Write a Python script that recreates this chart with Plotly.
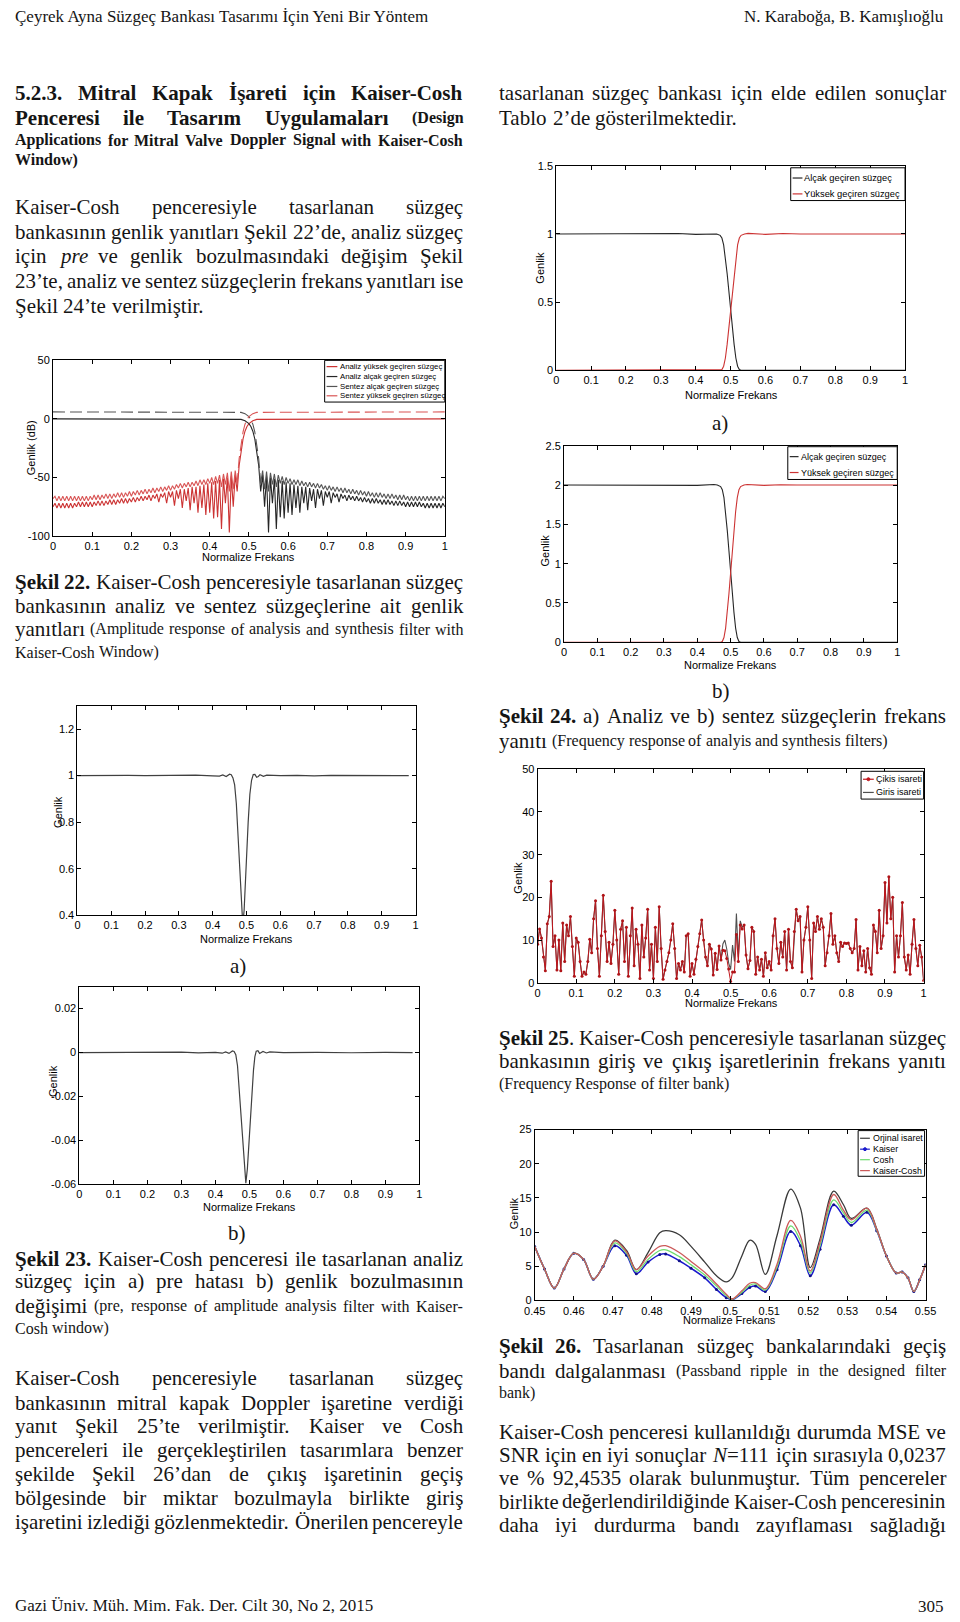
import re
import glob
import subprocess
import numpy as np
import plotly.graph_objects as go

W, H = 960, 1622

# ======================= DATA =======================
freq_ticks = [0, 0.1, 0.2, 0.3, 0.4, 0.5, 0.6, 0.7, 0.8, 0.9, 1.0]
freq_labels = ["0", "0.1", "0.2", "0.3", "0.4", "0.5", "0.6", "0.7", "0.8", "0.9", "1"]
x_title = "Normalize Frekans"
y_title = "Genlik"
y_title_db = "Genlik (dB)"

# --- Şekil 22 (dB) : low-pass curves; the high-pass curves are their mirror images
s22_yticks = [-100, -50, 0, 50]
s22_ylabels = ["-100", "-50", "0", "50"]
s22_an_lp_pass_x = [0, 0.46, 0.47, 0.48, 0.49, 0.50, 0.505, 0.51, 0.515, 0.52, 0.525]
s22_an_lp_pass_db = [0, 0, -0.1, -0.4, -1.6, -4.0, -6.5, -10.5, -17, -27, -40]
s22_sy_lp_pass_x = [0, 0.45, 0.46, 0.47, 0.48, 0.49, 0.50, 0.505, 0.51, 0.515, 0.52, 0.525]
s22_sy_lp_pass_db = [6, 6, 6, 5.9, 5.6, 4.5, 2.0, -0.5, -4.5, -11, -21, -34]
s22_stop_x = np.round(0.53 + 0.005 * np.arange(95), 3)
s22_an_lp_stop_db = [
    -62, -48, -75, -49, -97, -50, -72, -51, -94, -52,
    -84, -53, -85, -54, -80, -55, -82, -56, -76, -57,
    -80, -58, -72, -58, -78, -59, -70, -60, -76, -60,
    -68, -61, -74, -62, -67, -62, -72, -63, -67, -64,
    -71, -64, -68, -65, -70, -65, -69, -66, -70, -66,
    -70, -67, -71, -67, -71, -68, -72, -68, -72, -68,
    -72, -69, -73, -69, -73, -69, -73, -70, -74, -70,
    -74, -70, -74, -71, -75, -71, -75, -71, -75, -71,
    -75, -71, -75, -72, -76, -72, -76, -72, -76, -72,
    -76, -72, -76, -72, -75]
s22_sy_lp_stop_db = [
    -55, -44, -60, -45, -62, -46, -56, -47, -58, -48,
    -55, -49, -56, -50, -55, -51, -56, -52, -56, -52,
    -57, -53, -57, -54, -58, -54, -58, -55, -59, -55,
    -59, -56, -60, -57, -61, -57, -61, -58, -62, -58,
    -62, -59, -63, -59, -63, -60, -64, -60, -64, -61,
    -65, -61, -65, -62, -66, -62, -66, -63, -67, -63,
    -67, -63, -67, -64, -68, -64, -68, -64, -68, -65,
    -69, -65, -69, -65, -69, -66, -70, -66, -70, -66,
    -70, -66, -70, -66, -70, -66, -70, -66, -70, -66,
    -70, -66, -70, -66, -68]
s22_legend = ["Analiz yüksek geçiren süzgeç", "Analiz alçak geçiren süzgeç",
              "Sentez alçak geçiren süzgeç", "Sentez yüksek geçiren süzgeç"]

# --- Şekil 24 a) analysis, b) synthesis
s24_legend = ["Alçak geçiren süzgeç", "Yüksek geçiren süzgeç"]
s24_lp_x = [0, 0.3, 0.35, 0.4, 0.45, 0.46, 0.47, 0.475, 0.48, 0.485, 0.49, 0.495, 0.5,
            0.505, 0.51, 0.515, 0.52, 0.525, 0.53, 0.6, 1.0]
s24_hp_x = [0, 0.4, 0.47, 0.475, 0.48, 0.485, 0.49, 0.495, 0.5, 0.505, 0.51, 0.515, 0.52,
            0.525, 0.53, 0.54, 0.55, 0.6, 0.65, 0.7, 1.0]
s24a_lp = [1, 1, 1.003, 0.997, 1.004, 1.0, 0.99, 0.97, 0.92, 0.83, 0.71, 0.58, 0.44,
           0.31, 0.19, 0.09, 0.03, 0.005, 0, 0, 0]
s24a_hp = [0, 0, 0, 0.005, 0.03, 0.09, 0.19, 0.31, 0.44, 0.58, 0.71, 0.83, 0.92,
           0.97, 0.99, 1.0, 1.004, 0.997, 1.003, 1.0, 1.0]
s24b_lp = [2, 2, 2.004, 1.996, 2.006, 2.0, 1.98, 1.94, 1.84, 1.66, 1.42, 1.16, 0.88,
           0.62, 0.38, 0.18, 0.06, 0.01, 0, 0, 0]
s24b_hp = [0, 0, 0, 0.01, 0.06, 0.18, 0.38, 0.62, 0.88, 1.16, 1.42, 1.66, 1.84,
           1.94, 1.98, 2.0, 2.006, 1.996, 2.004, 2.0, 2.0]
s24a_yticks = [0, 0.5, 1, 1.5]
s24a_ylabels = ["0", "0.5", "1", "1.5"]
s24b_yticks = [0, 0.5, 1, 1.5, 2, 2.5]
s24b_ylabels = ["0", "0.5", "1", "1.5", "2", "2.5"]

# --- Şekil 23 a) pre, b) amplitude distortion
s23a_x = [0, 0.05, 0.1, 0.15, 0.2, 0.25, 0.3, 0.35, 0.4, 0.42, 0.43, 0.44, 0.45, 0.455, 0.46,
          0.465, 0.47, 0.475, 0.48, 0.485, 0.489, 0.493, 0.497, 0.5, 0.505, 0.51, 0.515, 0.52,
          0.525, 0.53, 0.535, 0.54, 0.55, 0.56, 0.6, 0.65, 0.7, 0.75, 0.8, 0.85, 0.9, 0.95, 0.98]
s23a_y = [1.0, 1.001, 0.999, 1.001, 1.0, 1.001, 0.999, 1.002, 0.999, 0.998, 1.003, 0.996, 1.006,
          1.004, 0.99, 0.96, 0.88, 0.75, 0.6, 0.45, 0.36, 0.42, 0.56, 0.66, 0.8, 0.92, 0.98,
          1.004, 1.005, 0.993, 0.996, 1.004, 0.997, 1.002, 1.0, 1.001, 0.999, 1.001, 1.0, 0.999,
          1.001, 1.0, 1.0]
s23a_yticks = [0.4, 0.6, 0.8, 1.0, 1.2]
s23a_ylabels = ["0.4", "0.6", "0.8", "1", "1.2"]
s23b_x = [0, 0.1, 0.2, 0.3, 0.35, 0.4, 0.42, 0.43, 0.44, 0.45, 0.455, 0.46, 0.465, 0.47, 0.475,
          0.48, 0.485, 0.4895, 0.494, 0.499, 0.503, 0.507, 0.512, 0.516, 0.52, 0.525, 0.53, 0.54,
          0.55, 0.56, 0.6, 0.7, 0.8, 0.9, 0.98]
s23b_y = [0, 0.0001, -0.0001, 0.0002, -0.0002, 0.0001, -0.0003, 0.0003, -0.0004, 0.0007, 0.0005,
          -0.001, -0.006, -0.017, -0.029, -0.041, -0.052, -0.0595, -0.053, -0.04, -0.03, -0.02,
          -0.008, -0.002, 0.0006, 0.0008, -0.0004, 0.0005, -0.0002, 0.0003, 0, 0.0001, -0.0001,
          0.0001, 0]
s23b_yticks = [-0.06, -0.04, -0.02, 0, 0.02]
s23b_ylabels = ["-0.06", "-0.04", "-0.02", "0", "0.02"]

# --- Şekil 25 input / output spectra (frequency step 0.005)
s25_x = np.round(np.arange(201) * 0.005, 3)
s25_giris = [
    9.0, 12.6, 10.5, 6.0, 2.8, 13.8, 15.5, 23.8, 8.5, 11.0,
    3.0, 10.0, 2.8, 14.0, 5.0, 13.5, 11.0, 15.5, 8.5, 1.5,
    10.5, 9.5, 5.0, 1.5, 2.5, 2.0, 5.0, 10.2, 7.0, 15.0,
    19.2, 8.0, 1.5, 11.0, 20.5, 12.0, 5.0, 9.5, 4.5, 9.0,
    17.0, 10.0, 2.0, 12.5, 14.5, 5.0, 13.0, 1.5, 11.0, 17.5,
    4.0, 12.5, 9.0, 1.0, 13.5, 6.0, 10.5, 17.2, 3.0, 9.0,
    1.0, 13.0, 5.0, 17.8, 8.0, 0.8, 3.0, 5.0, 7.0, 10.0,
    13.8, 8.0, 1.0, 4.5, 3.0, 5.0, 2.5, 11.0, 11.5, 1.5,
    4.5, 2.0, 5.5, 8.5, 11.5, 14.7, 10.0, 6.0, 4.0, 9.0,
    7.9, 1.8, 6.9, 3.1, 8.8, 5.5, 9.1, 10.0, 7.9, 4.6,
    3.1, 8.8, 5.0, 16.2, 6.0, 14.5, 13.0, 13.5, 6.5, 3.3,
    5.2, 13.0, 12.0, 2.0, 6.0, 3.0, 5.5, 1.5, 7.0, 3.5,
    5.0, 3.0, 11.0, 15.0, 8.0, 4.5, 9.5, 6.0, 12.0, 3.0,
    12.5, 5.0, 3.5, 12.0, 17.2, 14.5, 15.5, 2.5, 10.0, 13.0,
    17.8, 10.0, 1.0, 14.0, 12.0, 15.5, 12.5, 15.0, 13.0, 4.0,
    7.0, 11.0, 16.2, 9.0, 11.0, 7.0, 5.0, 9.5, 8.5, 9.3,
    9.2, 9.3, 8.0, 7.0, 8.0, 14.8, 3.0, 8.5, 4.0, 7.5,
    2.5, 8.0, 3.5, 2.0, 13.5, 12.0, 7.0, 17.0, 8.0, 11.0,
    23.5, 14.0, 24.8, 15.0, 20.0, 2.5, 11.0, 6.0, 11.0, 18.8,
    6.0, 3.0, 6.5, 2.0, 9.0, 14.8, 8.0, 4.0, 8.8, 6.0,
    0.5]
# output differs from the input only in the transition band (bins 94..107)
s25_cikis_gecis_start = 94
s25_cikis_gecis = [8.6, 5.3, 7.6, 7.5, 5.7, 3.2, 0.3, 2.5, 2.5, 11.3, 5.0, 13.5, 12.6, 13.5]
s25_legend = ["Çikis isareti", "Giris isareti"]
s25_yticks = [0, 10, 20, 30, 40, 50]
s25_ylabels = ["0", "10", "20", "30", "40", "50"]

# --- Şekil 26 passband ripple zoom
s26_x = [0.45, 0.4525, 0.455, 0.4575, 0.46, 0.4625, 0.465, 0.4675, 0.4705, 0.4735, 0.476, 0.479,
         0.482, 0.4835, 0.487, 0.49, 0.4935, 0.4965, 0.499, 0.5005, 0.503, 0.505, 0.5065, 0.509,
         0.512, 0.5155, 0.518, 0.5205, 0.523, 0.5265, 0.529, 0.531, 0.535, 0.5375, 0.54, 0.5425,
         0.544, 0.5455, 0.547, 0.5485, 0.55]
s26_orjinal = [7.9, 4.6, 1.8, 4.6, 6.9, 6.0, 3.1, 5.0, 8.8, 7.3, 4.5, 7.0, 9.9, 10.2, 9.6, 7.9,
               5.6, 3.6, 2.7, 3.3, 6.5, 8.8, 8.2, 3.8, 9.5, 16.3, 13.5, 4.8, 9.0, 16.0, 14.0,
               12.0, 13.5, 10.5, 6.5, 4.0, 4.15, 3.3, 1.3, 3.0, 5.2]
s26_kaiser = [7.9, 4.6, 1.8, 4.6, 6.9, 6.0, 3.1, 5.0, 8.0, 6.6, 3.9, 5.6, 6.7, 6.8, 5.8, 4.7,
              3.3, 1.6, 0.4, 0.1, 1.0, 1.9, 2.1, 1.3, 4.5, 10.1, 8.0, 3.6, 7.5, 14.0, 12.3,
              11.0, 12.9, 10.2, 6.5, 4.0, 4.15, 3.3, 1.3, 3.0, 5.2]
s26_cosh = [7.9, 4.6, 1.8, 4.6, 6.9, 6.0, 3.1, 5.0, 8.4, 6.9, 4.2, 6.0, 7.3, 7.4, 6.4, 5.2,
            3.7, 2.1, 0.7, 0.15, 1.2, 2.2, 2.4, 1.5, 4.9, 10.9, 8.7, 4.0, 8.0, 14.7, 12.8,
            11.4, 13.2, 10.3, 6.5, 4.0, 4.15, 3.3, 1.3, 3.0, 5.2]
s26_kaiser_cosh = [7.9, 4.6, 1.8, 4.6, 6.9, 6.0, 3.1, 5.0, 8.7, 7.1, 4.5, 6.5, 7.9, 8.0, 7.0,
                   5.7, 4.1, 2.4, 0.9, 0.2, 1.4, 2.5, 2.6, 1.7, 5.3, 11.7, 9.4, 4.3, 8.5, 15.5,
                   13.2, 11.8, 13.5, 10.4, 6.5, 4.0, 4.15, 3.3, 1.3, 3.0, 5.2]
s26_legend = ["Orjinal isaret", "Kaiser", "Cosh", "Kaiser-Cosh"]
s26_xticks = [0.45, 0.46, 0.47, 0.48, 0.49, 0.5, 0.51, 0.52, 0.53, 0.54, 0.55]
s26_xlabels = ["0.45", "0.46", "0.47", "0.48", "0.49", "0.5", "0.51", "0.52", "0.53", "0.54", "0.55"]
s26_yticks = [0, 5, 10, 15, 20, 25]
s26_ylabels = ["0", "5", "10", "15", "20", "25"]

# --- Page text
header_left = "Çeyrek Ayna Süzgeç Bankası Tasarımı İçin Yeni Bir Yöntem"
header_right = "N. Karaboğa, B. Kamışlıoğlu"
footer_left = "Gazi Üniv. Müh. Mim. Fak. Der. Cilt 30, No 2, 2015"
footer_right = "305"

left_lines = [
    (88, "<b>5.2.3. Mitral Kapak İşareti için Kaiser-Cosh</b>", True),
    (113, "<b>Penceresi ile Tasarım Uygulamaları <s>(Design</s></b>", True),
    (135, "<b><s>Applications for Mitral Valve Doppler Signal with Kaiser-Cosh</s></b>", True),
    (155, "<b><s>Window)</s></b>", False),
    (203, "Kaiser-Cosh penceresiyle tasarlanan süzgeç", True),
    (228, "bankasının genlik yanıtları Şekil 22’de, analiz süzgeç", True),
    (252, "için <i>pre</i> ve genlik bozulmasındaki değişim Şekil", True),
    (277, "23’te, analiz ve sentez süzgeçlerin frekans yanıtları ise", True),
    (302, "Şekil 24’te verilmiştir.", False),
    (580, "<b>Şekil 22.</b> Kaiser-Cosh penceresiyle tasarlanan süzgeç", True),
    (604, "bankasının analiz ve sentez süzgeçlerine ait genlik", True),
    (628, "yanıtları <s>(Amplitude response of analysis and synthesis filter with</s>", True),
    (651, "<s>Kaiser-Cosh Window)</s>", False),
    (1262, "<b>Şekil 23.</b> Kaiser-Cosh penceresi ile tasarlanan analiz", True),
    (1285, "süzgeç için a) pre hatası b) genlik bozulmasının", True),
    (1310, "değişimi <s>(pre, response of amplitude analysis filter with Kaiser-</s>", True),
    (1332, "<s>Cosh window)</s>", False),
    (1382, "Kaiser-Cosh penceresiyle tasarlanan süzgeç", True),
    (1407, "bankasının mitral kapak Doppler işaretine verdiği", True),
    (1431, "yanıt Şekil 25’te verilmiştir. Kaiser ve Cosh", True),
    (1455, "pencereleri ile gerçekleştirilen tasarımlara benzer", True),
    (1479, "şekilde Şekil 26’dan de çıkış işaretinin geçiş", True),
    (1503, "bölgesinde bir miktar bozulmayla birlikte giriş", True),
    (1527, "işaretini izlediği gözlenmektedir. Önerilen pencereyle", True),
]
right_lines = [
    (88, "tasarlanan süzgeç bankası için elde edilen sonuçlar", True),
    (113, "Tablo 2’de gösterilmektedir.", False),
    (715, "<b>Şekil 24.</b> a) Analiz ve b) sentez süzgeçlerin frekans", True),
    (740, "yanıtı <s>(Frequency response of analyis and synthesis filters)</s>", False),
    (1040, "<b>Şekil 25</b>. Kaiser-Cosh penceresiyle tasarlanan süzgeç", True),
    (1063, "bankasının giriş ve çıkış işaretlerinin frekans yanıtı", True),
    (1086, "<s>(Frequency Response of filter bank)</s>", False),
    (1350, "<b>Şekil 26.</b> Tasarlanan süzgeç bankalarındaki geçiş", True),
    (1375, "bandı dalgalanması <s>(Passband ripple in the designed filter</s>", True),
    (1397, "<s>bank)</s>", False),
    (1437, "Kaiser-Cosh penceresi kullanıldığı durumda MSE ve", True),
    (1460, "SNR için en iyi sonuçlar <i>N</i>=111 için sırasıyla 0,0237", True),
    (1483, "ve % 92,4535 olarak bulunmuştur. Tüm pencereler", True),
    (1507, "birlikte değerlendirildiğinde Kaiser-Cosh penceresinin", True),
    (1530, "daha iyi durdurma bandı zayıflaması sağladığı", True),
]
sub_labels = [("a)", 232, 967), ("b)", 231, 1236), ("a)", 726, 420), ("b)", 727, 690)]


# ======================= STYLE =======================
def has_narrow():
    try:
        out = subprocess.run(["fc-list", ":", "family"], capture_output=True, text=True,
                             timeout=10).stdout
        if "Liberation Sans Narrow" in out:
            return True
    except Exception:
        pass
    pats = ['/usr/share/fonts/**/LiberationSansNarrow*', '/usr/local/share/fonts/**/LiberationSansNarrow*',
            '/root/.fonts/**/LiberationSansNarrow*', '/root/.local/share/fonts/**/LiberationSansNarrow*']
    return any(glob.glob(p, recursive=True) for p in pats)


NARROW = has_narrow()
if NARROW:
    SANS = "Liberation Sans Narrow, Arial Narrow, Liberation Sans, sans-serif"
    TICK_SIZE, TITLE_SIZE = 12, 13
    LEG22, LEG24, LEG25, LEG26 = 9.5, 12, 11, 10.5
else:
    SANS = "Liberation Sans, Arial, sans-serif"
    TICK_SIZE, TITLE_SIZE = 11, 11
    LEG22, LEG24, LEG25, LEG26 = 7.8, 9.3, 9.0, 8.9
SERIF = "Liberation Serif, Times New Roman, serif"
TXT = "#151515"
BASE, SMALL = 21, 16
MIN_GAP = 4.0

C_RED = "#cc3333"
C_RED2 = "#d95555"
C_BLK = "#262626"
C_GRY = "#555555"

fig = go.Figure()
annotations = []
shapes = []


def px_x(p):
    return p / W


def px_y(p):
    return 1 - p / H


def text_ann(x, y, text, size, family=SERIF, xanchor='left', angle=0, color=TXT):
    annotations.append(dict(x=px_x(x), y=px_y(y), xref='paper', yref='paper', text=text,
                            showarrow=False, xanchor=xanchor, yanchor='middle', textangle=angle,
                            font=dict(family=family, size=size, color=color), borderpad=0))


# ---- Times-like advance widths (per 1000 em) for justification
REG = dict(zip("ABCDEFGHIJKLMNOPQRSTUVWXYZ",
               [722, 667, 667, 722, 611, 556, 722, 722, 333, 389, 722, 611, 889, 722, 722, 556, 722,
                667, 556, 611, 722, 722, 944, 722, 722, 611]))
REG.update(dict(zip("abcdefghijklmnopqrstuvwxyz",
                    [444, 500, 444, 500, 444, 333, 500, 500, 278, 278, 500, 278, 778, 500, 500, 500,
                     500, 333, 389, 278, 500, 500, 722, 500, 500, 444])))
REG.update({'ç': 444, 'ğ': 500, 'ı': 278, 'ö': 500, 'ş': 389, 'ü': 500, 'Ç': 667, 'İ': 333,
            'Ö': 722, 'Ş': 556, 'Ü': 722})
BOLD = dict(zip("ABCDEFGHIJKLMNOPQRSTUVWXYZ",
                [722, 667, 722, 722, 667, 611, 778, 778, 389, 500, 778, 667, 944, 722, 778, 611, 778,
                 722, 556, 667, 722, 722, 1000, 722, 722, 667]))
BOLD.update(dict(zip("abcdefghijklmnopqrstuvwxyz",
                     [500, 556, 444, 556, 444, 333, 500, 556, 278, 333, 556, 278, 833, 556, 500, 556,
                      556, 444, 389, 333, 556, 500, 722, 500, 500, 444])))
BOLD.update({'ç': 444, 'ğ': 500, 'ı': 278, 'ö': 500, 'ş': 389, 'ü': 556, 'Ç': 722, 'İ': 389,
             'Ö': 778, 'Ş': 556, 'Ü': 722})
COMMON = {' ': 250, '.': 250, ',': 250, '-': 333, '(': 333, ')': 333, '’': 333, '%': 833,
          '=': 564, ':': 278}
for d in '0123456789':
    COMMON[d] = 500
WIDTH_FIX = 1.025


def parse_line(line):
    tokens = re.split(r'(</?[bis]>)', line)
    state = {'b': False, 'i': False, 's': False}
    words, cur = [], []
    for tok in tokens:
        if not tok:
            continue
        m = re.fullmatch(r'<(/?)([bis])>', tok)
        if m:
            state[m.group(2)] = (m.group(1) == '')
            continue
        parts = tok.split(' ')
        for k, part in enumerate(parts):
            if k > 0 and cur:
                words.append(cur)
                cur = []
            if part:
                cur.append((part, state['b'], state['i'], state['s']))
    if cur:
        words.append(cur)
    return words


def word_info(word):
    size = SMALL if word[0][3] else BASE
    w = 0.0
    html = ''
    for text, b, i, s in word:
        tab = BOLD if b else REG
        for ch in text:
            w += tab.get(ch, COMMON.get(ch, 500))
        t = text
        if i:
            t = '<i>' + t + '</i>'
        if b:
            t = '<b>' + t + '</b>'
        html += t
    return html, w / 1000.0 * size * WIDTH_FIX, size


def place_lines(lines, x0, x1):
    for yc, markup, justify in lines:
        words = [word_info(w) for w in parse_line(markup)]
        total = sum(w[1] for w in words)
        scale = 1.0
        if justify and len(words) > 1:
            gap = (x1 - x0 - total) / (len(words) - 1)
            if gap < MIN_GAP:
                scale = (x1 - x0 - MIN_GAP * (len(words) - 1)) / total
                gap = MIN_GAP
        else:
            gap = None
        x = x0
        for html, wd, size in words:
            text_ann(x, yc, html, round(size * scale, 2))
            x += wd * scale + (gap if gap is not None else 0.25 * size)


place_lines(left_lines, 3, 462)
place_lines(right_lines, 498, 956)
text_ann(3, 11, header_left, 17)
text_ann(956, 11, header_right, 17, xanchor='right')
text_ann(3, 1611, footer_left, 17)
text_ann(956, 1612, footer_right, 17, xanchor='right')
for lab, xx, yy in sub_labels:
    text_ann(xx, yy, lab, BASE, xanchor='center')

# ======================= AXES =======================
layout = dict(width=W, height=H, margin=dict(l=0, r=0, t=0, b=0), paper_bgcolor='white',
              plot_bgcolor='white', showlegend=False)


def axis_common():
    return dict(showline=True, linecolor='black', linewidth=1, mirror='ticks', ticks='inside',
                ticklen=4, tickcolor='black', tickwidth=1, showgrid=False, zeroline=False,
                tickfont=dict(family=SANS, size=TICK_SIZE, color='black'), fixedrange=True)


panels = [
    # n, (left, right, top, bottom) px, xrange, yrange, xticks, yticks, ytitle, ytitle pos, xtitle pos
    (1, (43, 444, 357, 534), [0, 1], [-100, 50], (freq_ticks, freq_labels), (s22_yticks, s22_ylabels),
     y_title_db, (20, 445), (243, 555)),
    (2, (558, 915, 161, 367), [0, 1], [0, 1.5], (freq_ticks, freq_labels), (s24a_yticks, s24a_ylabels),
     y_title, (541, 264), (737, 392)),
    (3, (566, 907, 443, 641), [0, 1], [0, 2.5], (freq_ticks, freq_labels), (s24b_yticks, s24b_ylabels),
     y_title, (546, 548), (736, 664)),
    (4, (68, 414, 705, 916), [0, 1], [0.4, 1.3], (freq_ticks, freq_labels), (s23a_yticks, s23a_ylabels),
     y_title, (48, 812), (241, 940)),
    (5, (539, 934, 769, 984), [0, 1], [0, 50], (freq_ticks, freq_labels), (s25_yticks, s25_ylabels),
     y_title, (518, 878), (737, 1004)),
    (6, (70, 418, 988, 1187), [0, 1], [-0.06, 0.03], (freq_ticks, freq_labels), (s23b_yticks, s23b_ylabels),
     y_title, (43, 1083), (244, 1210)),
    (7, (536, 936, 1132, 1304), [0.45, 0.55], [0, 25], (s26_xticks, s26_xlabels), (s26_yticks, s26_ylabels),
     y_title, (515, 1216), (735, 1324)),
]
for n, (l, r, t, b), xr, yr, (xtv, xtt), (ytv, ytt), ytl, ypos, xpos in panels:
    sfx = '' if n == 1 else str(n)
    xa = axis_common()
    xa.update(domain=[l / W, r / W], anchor='y' + sfx, range=xr, tickvals=xtv, ticktext=xtt)
    ya = axis_common()
    ya.update(domain=[1 - b / H, 1 - t / H], anchor='x' + sfx, range=yr, tickvals=ytv, ticktext=ytt)
    layout['xaxis' + sfx] = xa
    layout['yaxis' + sfx] = ya
    text_ann(ypos[0], ypos[1], ytl, TITLE_SIZE, family=SANS, xanchor='center', angle=-90, color='black')
    text_ann(xpos[0], xpos[1], x_title, TITLE_SIZE, family=SANS, xanchor='center', color='black')


def add(n, x, y, color, width=1.1, dash=None, mode='lines', marker=None, shape='linear', name=None):
    sfx = '' if n == 1 else str(n)
    line = dict(color=color, width=width, shape=shape)
    if dash:
        line['dash'] = dash
    kw = dict(x=list(x), y=list(y), mode=mode, line=line, xaxis='x' + sfx, yaxis='y' + sfx,
              name=name, hoverinfo='x+y')
    if marker:
        kw['marker'] = marker
    fig.add_trace(go.Scatter(**kw))


# ---- Şekil 22
an_lp_x = list(s22_an_lp_pass_x) + list(s22_stop_x)
an_lp_db = list(s22_an_lp_pass_db) + list(s22_an_lp_stop_db)
sy_pass_x = list(s22_sy_lp_pass_x) + [s22_stop_x[0]]
sy_pass_db = list(s22_sy_lp_pass_db) + [s22_sy_lp_stop_db[0]]
add(1, [1 - v for v in an_lp_x], an_lp_db, C_RED, name=s22_legend[0])
add(1, an_lp_x, an_lp_db, C_BLK, name=s22_legend[1])
add(1, sy_pass_x, sy_pass_db, C_GRY, dash='12px,5px', name=s22_legend[2])
add(1, s22_stop_x, s22_sy_lp_stop_db, C_GRY, name=s22_legend[2])
add(1, [1 - v for v in sy_pass_x], sy_pass_db, C_RED2, dash='12px,5px', name=s22_legend[3])
add(1, [1 - v for v in s22_stop_x], s22_sy_lp_stop_db, C_RED2, name=s22_legend[3])

# ---- Şekil 24
add(2, s24_lp_x, s24a_lp, C_BLK, name=s24_legend[0])
add(2, s24_hp_x, s24a_hp, C_RED, name=s24_legend[1])
add(3, s24_lp_x, s24b_lp, C_BLK, name=s24_legend[0])
add(3, s24_hp_x, s24b_hp, C_RED, name=s24_legend[1])

# ---- Şekil 23
add(4, s23a_x, s23a_y, "#404040", width=1.2)
add(6, s23b_x, s23b_y, "#404040", width=1.2)

# ---- Şekil 25
s25_cikis = (s25_giris[:s25_cikis_gecis_start] + s25_cikis_gecis
             + s25_giris[s25_cikis_gecis_start + len(s25_cikis_gecis):])
add(5, s25_x, s25_giris, "#505050", width=1.1, name=s25_legend[1])
add(5, s25_x, s25_cikis, "#c0161c", width=1.0, mode='lines+markers',
    marker=dict(size=3, color="#b01418"), name=s25_legend[0])

# ---- Şekil 26
add(7, s26_x, s26_orjinal, "#3a3a3a", width=1.3, shape='spline', name=s26_legend[0])
add(7, s26_x, s26_kaiser, "#1a1acc", width=1.5, shape='spline', mode='lines+markers',
    marker=dict(size=3, color="#10108a"), name=s26_legend[1])
add(7, s26_x, s26_cosh, "#6fdc6f", width=1.3, shape='spline', name=s26_legend[2])
add(7, s26_x, s26_kaiser_cosh, "#cc5a5a", width=1.3, shape='spline', name=s26_legend[3])


# ======================= LEGENDS =======================
def manual_legend(box, labels, colors, ys, line_x, text_x, size, markers=None):
    x0, y0, x1, y1 = box
    shapes.append(dict(type='rect', xref='paper', yref='paper', x0=px_x(x0), x1=px_x(x1),
                       y0=px_y(y1), y1=px_y(y0), line=dict(color='black', width=1),
                       fillcolor='white', layer='above'))
    for k, (lab, col, yy) in enumerate(zip(labels, colors, ys)):
        shapes.append(dict(type='line', xref='paper', yref='paper', x0=px_x(line_x[0]),
                           x1=px_x(line_x[1]), y0=px_y(yy), y1=px_y(yy),
                           line=dict(color=col, width=1.2), layer='above'))
        if markers and markers[k]:
            cx = (line_x[0] + line_x[1]) / 2
            shapes.append(dict(type='circle', xref='paper', yref='paper', x0=px_x(cx - 1.5),
                               x1=px_x(cx + 1.5), y0=px_y(yy + 1.5), y1=px_y(yy - 1.5),
                               line=dict(color=col, width=1), fillcolor=col, layer='above'))
        text_ann(text_x, yy, lab, size, family=SANS, color='black')


manual_legend((321, 357, 444, 399), s22_legend, [C_RED, C_BLK, C_GRY, C_RED2],
              [363.3, 373.3, 383.3, 392.7], (323, 334), 336, LEG22)
manual_legend((798, 163, 915, 196), s24_legend, [C_BLK, C_RED], [173.3, 189.3], (800, 810), 811,
              LEG24)
manual_legend((795, 444, 907, 477), s24_legend, [C_BLK, C_RED], [454, 470], (797, 806), 807,
              LEG24 * 0.97)
manual_legend((870, 771, 934, 799), s25_legend, ["#c0161c", "#505050"], [779, 792.3], (872, 883),
              884, LEG25, markers=[True, False])
manual_legend((867, 1133, 935, 1179), s26_legend, ["#3a3a3a", "#1a1acc", "#6fdc6f", "#cc5a5a"],
              [1140.7, 1151.7, 1162.3, 1173.3], (869, 879), 881, LEG26,
              markers=[False, True, False, False])

layout['annotations'] = annotations
layout['shapes'] = shapes
fig.update_layout(**layout)
fig.write_html("out.html")
